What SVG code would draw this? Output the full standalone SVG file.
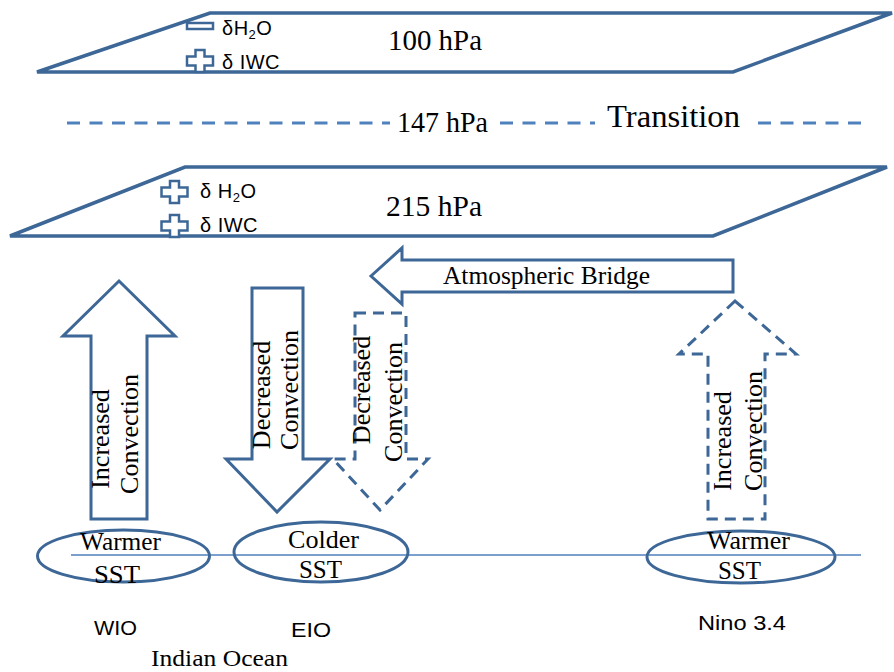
<svg xmlns="http://www.w3.org/2000/svg" width="894" height="672" viewBox="0 0 894 672">
<defs>
<style>
.sh{fill:#fff;stroke:#3d6796;stroke-width:3;stroke-linejoin:miter}
.pl{fill:none;stroke:#3d6796;stroke-width:3.5;stroke-linejoin:miter}
.dsh{fill:#fff;stroke:#3d6796;stroke-width:3;stroke-dasharray:11 7}
.ic{fill:#fff;stroke:#3d6796;stroke-width:2.5}
.serif{font-family:"Liberation Serif","Times New Roman",serif;fill:#000}
.sans{font-family:"Liberation Sans",Arial,sans-serif;fill:#000}
.lbl{font-size:20px;letter-spacing:0.5px}
.rot{font-size:26px;text-anchor:middle}
.ell{fill:none;stroke:#3d6796;stroke-width:3}
</style>
<path id="plus" d="M-4.5,-11 H4.5 V-4.5 H13 V4.5 H4.5 V11 H-4.5 V4.5 H-13 V-4.5 H-4.5 Z"/>
</defs>
<rect width="894" height="672" fill="#fff"/>

<g id="plane100">
<polygon class="pl" points="210,13 892,13 733,72 37,72"/>
<rect class="ic" x="187" y="23" width="26" height="6"/>
<use href="#plus" class="ic" transform="translate(200,61)"/>
<text class="sans lbl" x="222" y="35">δH<tspan font-size="13" dy="4">2</tspan><tspan dy="-4">O</tspan></text>
<text class="sans lbl" x="222" y="69">δ IWC</text>
<text class="serif" x="388" y="50" font-size="30" textLength="94" lengthAdjust="spacingAndGlyphs">100 hPa</text>
</g>

<g id="transition">
<line x1="67" y1="123" x2="390" y2="123" stroke="#4f81bd" stroke-width="3" stroke-dasharray="13 9.5"/>
<line x1="500" y1="123" x2="595" y2="123" stroke="#4f81bd" stroke-width="3" stroke-dasharray="13 9.5"/>
<line x1="758" y1="123" x2="862" y2="123" stroke="#4f81bd" stroke-width="3" stroke-dasharray="13 9.5"/>
<text class="serif" x="397" y="132" font-size="30" textLength="91" lengthAdjust="spacingAndGlyphs">147 hPa</text>
<text class="serif" x="607" y="127" font-size="32" textLength="133" lengthAdjust="spacingAndGlyphs">Transition</text>
</g>

<g id="plane215">
<polygon class="pl" points="185,167 887,167 713,236 10,236"/>
<use href="#plus" class="ic" transform="translate(174.5,192)"/>
<use href="#plus" class="ic" transform="translate(174.5,226)"/>
<text class="sans lbl" x="200" y="198">δ H<tspan font-size="13" dy="4">2</tspan><tspan dy="-4">O</tspan></text>
<text class="sans lbl" x="200" y="232">δ IWC</text>
<text class="serif" x="386" y="216" font-size="30" textLength="96" lengthAdjust="spacingAndGlyphs">215 hPa</text>
</g>

<g id="connectors">
<g id="bridge">
<polygon class="sh" points="371,276 402,248 402,260 733,260 733,292 402,292 402,304"/>
<text class="serif" x="443" y="284" font-size="26" textLength="207" lengthAdjust="spacingAndGlyphs">Atmospheric Bridge</text>
</g>
</g>

<g id="wio-arrow">
<polygon class="sh" points="119,281 175,336 147,336 147,519 91,519 91,336 63,336"/>
<text class="serif rot" transform="translate(109,439) rotate(-90)">Increased</text>
<text class="serif rot" transform="translate(138,434) rotate(-90)">Convection</text>
</g>

<g id="eio-arrow">
<polygon class="sh" points="252,288 303,288 303,459 330,459 277,512 226,459 252,459"/>
<text class="serif rot" transform="translate(270,395) rotate(-90)">Decreased</text>
<text class="serif rot" transform="translate(298,390) rotate(-90)">Convection</text>
</g>

<g id="eio-dashed-arrow">
<polygon class="dsh" points="355,313 406,313 406,459 428,459 380,510 333,459 355,459"/>
<text class="serif rot" transform="translate(370,390) rotate(-90)">Decreased</text>
<text class="serif rot" transform="translate(402,402) rotate(-90)">Convection</text>
</g>

<g id="nino-arrow">
<polygon class="dsh" points="735,301 796,354 765,354 765,519 708,519 708,354 679,354"/>
<text class="serif rot" transform="translate(731,441) rotate(-90)">Increased</text>
<text class="serif rot" transform="translate(762,431) rotate(-90)">Convection</text>
</g>

<line id="surface" x1="71" y1="555" x2="861" y2="555" stroke="#4f81bd" stroke-width="1.5"/>

<g id="wio">
<ellipse class="ell" cx="123.5" cy="556" rx="86" ry="26"/>
<text class="serif" x="80" y="550" font-size="25" textLength="81" lengthAdjust="spacingAndGlyphs">Warmer</text>
<text class="serif" x="94" y="583" font-size="25" textLength="46" lengthAdjust="spacingAndGlyphs">SST</text>
<text class="sans" x="94" y="635" font-size="20" textLength="43" lengthAdjust="spacingAndGlyphs">WIO</text>
</g>

<g id="eio">
<ellipse class="ell" cx="321" cy="552" rx="87" ry="30"/>
<text class="serif" x="288" y="548" font-size="25" textLength="71" lengthAdjust="spacingAndGlyphs">Colder</text>
<text class="serif" x="299" y="578" font-size="25" textLength="43" lengthAdjust="spacingAndGlyphs">SST</text>
<text class="sans" x="291" y="637" font-size="20" textLength="40" lengthAdjust="spacingAndGlyphs">EIO</text>
</g>

<g id="nino">
<ellipse class="ell" cx="741" cy="557" rx="94" ry="26"/>
<text class="serif" x="707" y="549" font-size="25" textLength="83" lengthAdjust="spacingAndGlyphs">Warmer</text>
<text class="serif" x="718" y="579" font-size="25" textLength="43" lengthAdjust="spacingAndGlyphs">SST</text>
<text class="sans" x="698" y="630" font-size="20" textLength="88" lengthAdjust="spacingAndGlyphs">Nino 3.4</text>
</g>

<g id="indian-ocean">
<text class="serif" x="151" y="666" font-size="23" textLength="137" lengthAdjust="spacingAndGlyphs">Indian Ocean</text>
</g>
</svg>
